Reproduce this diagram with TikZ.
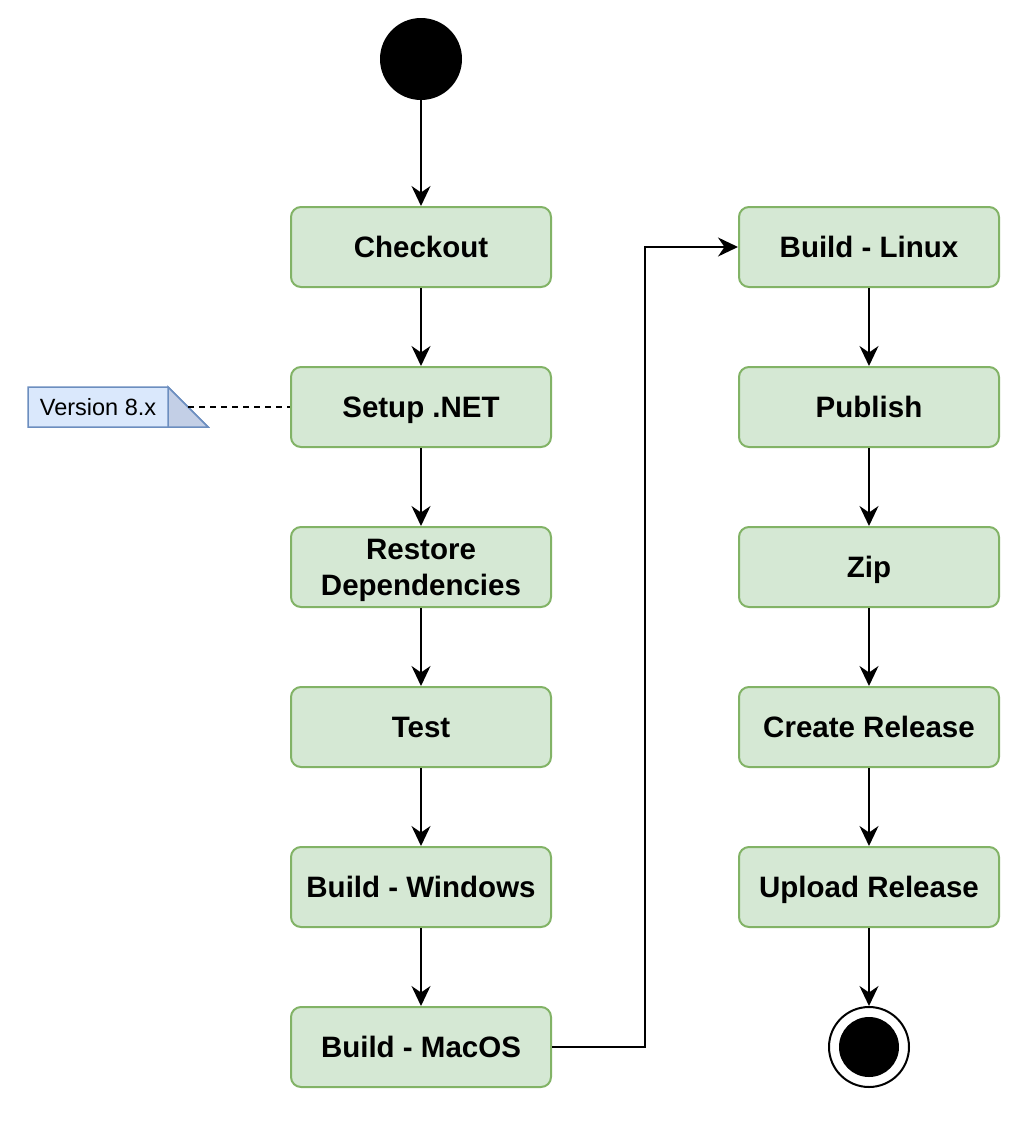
\documentclass[tikz,border=0pt]{standalone}
\usepackage{fontspec}
\setmainfont{Liberation Sans}
\usetikzlibrary{arrows.meta}
\definecolor{boxfill}{HTML}{D5E8D4}
\definecolor{boxline}{HTML}{82B366}
\definecolor{notefill}{HTML}{DAE8FC}
\definecolor{noteline}{HTML}{6C8EBF}
\definecolor{notefold}{HTML}{C3CFE6}
\tikzset{
  stepbox/.style={rectangle, rounded corners=10pt, draw=boxline, fill=boxfill, line width=2pt,
    minimum width=260pt, minimum height=80pt, align=center,
    font=\bfseries\fontsize{29.5}{36}\selectfont, inner sep=0pt,
    text height=21pt, text depth=0pt},
  flow/.style={line width=2pt, -{Stealth[length=20pt,width=19pt,inset=6.5pt]}},
  notetext/.style={font=\fontsize{23.5}{28}\selectfont, inner sep=0pt, text height=17pt, text depth=0pt},
}
\begin{document}
\begin{tikzpicture}[x=1pt,y=-1pt]
\useasboundingbox (0,0) rectangle (1034,1122);
% start
\node[circle, fill=black, minimum size=82pt, inner sep=0pt] (start) at (421,59) {};
% left column
\node[stepbox] (checkout) at (421,247) {Checkout};
\node[stepbox] (setup) at (421,407) {Setup .NET};
\node[stepbox, text height=57pt] (restore) at (421,567) {Restore\\Dependencies};
\node[stepbox] (test) at (421,727) {Test};
\node[stepbox] (win) at (421,887) {Build - Windows};
\node[stepbox] (mac) at (421,1047) {Build - MacOS};
% right column
\node[stepbox] (linux) at (869,247) {Build - Linux};
\node[stepbox] (publish) at (869,407) {Publish};
\node[stepbox] (zip) at (869,567) {Zip};
\node[stepbox] (release) at (869,727) {Create Release};
\node[stepbox] (upload) at (869,887) {Upload Release};
% end
\node[circle, draw=black, line width=2pt, fill=white, minimum size=80pt, inner sep=0pt] (end) at (869,1047) {};
\fill[black] (end.center) circle (30pt);
% note
\draw[line width=1.5pt, draw=noteline, fill=notefill] (28,387) -- (168,387) -- (208,427) -- (28,427) -- cycle;
\draw[line width=1.5pt, draw=noteline, fill=notefold] (168,387) -- (208,427) -- (168,427) -- cycle;
\node[notetext] (note) at (98,407) {Version 8.x};
\coordinate (notec) at (188,407);
\draw[line width=1.5pt, dash pattern=on 6pt off 5pt] (notec) -- (setup.west);
% flows
\draw[flow] (start) -- (checkout);
\draw[flow] (checkout) -- (setup);
\draw[flow] (setup) -- (restore);
\draw[flow] (restore) -- (test);
\draw[flow] (test) -- (win);
\draw[flow] (win) -- (mac);
\draw[flow] (mac.east) -- (645,1047) |- (linux.west);
\draw[flow] (linux) -- (publish);
\draw[flow] (publish) -- (zip);
\draw[flow] (zip) -- (release);
\draw[flow] (release) -- (upload);
\draw[flow] (upload) -- (end);
\end{tikzpicture}
\end{document}
